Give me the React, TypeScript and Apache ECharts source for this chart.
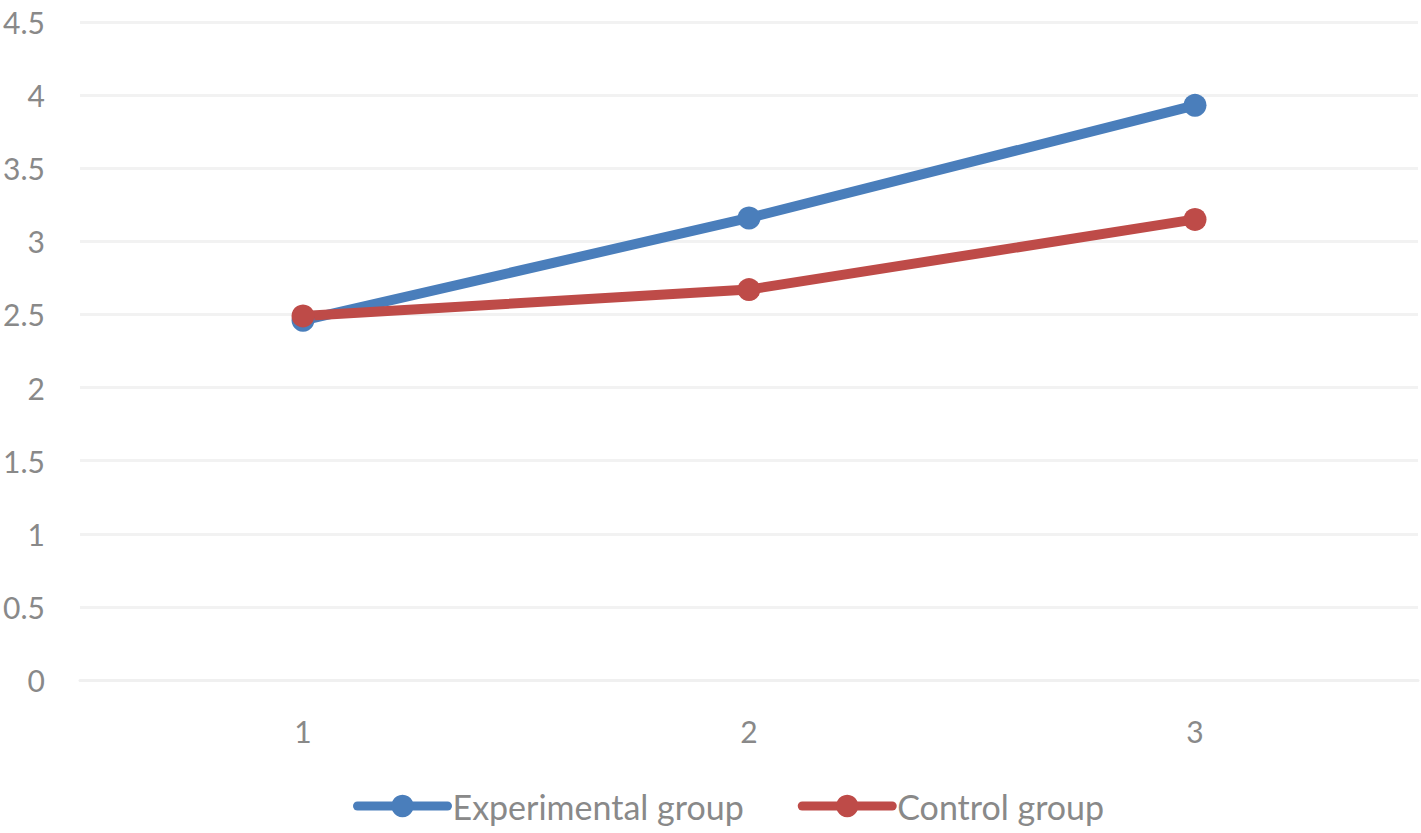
import React, { useEffect, useRef } from "react";
import * as echarts from "echarts";

const categories = ["1", "2", "3"];
const experimental = [2.46, 3.16, 3.93];
const control = [2.49, 2.67, 3.15];
const seriesNames = ["Experimental group", "Control group"];

export default function App() {
  const ref = useRef<HTMLDivElement>(null);
  useEffect(() => {
    const chart = echarts.init(ref.current!, null, { renderer: "svg" });
    const font = "Lato, 'Noto Sans', sans-serif";
    chart.setOption({
      animation: false,
      backgroundColor: "#ffffff",
      grid: { left: 80, right: 3, top: 22, bottom: 153 },
      legend: {
        bottom: 5,
        left: 348,
        itemWidth: 90,
        itemHeight: 28,
        itemGap: 54,
        lineStyle: { width: 9, cap: "round" },
        textStyle: { fontFamily: font, fontSize: 34, color: "#898989" },
        data: seriesNames,
      },
      xAxis: {
        type: "category",
        data: categories,
        boundaryGap: true,
        axisLine: { show: true, lineStyle: { color: "#f0f0f0", width: 3 } },
        axisTick: { show: false },
        axisLabel: { fontFamily: font, fontSize: 30, color: "#898989", margin: 36 },
      },
      yAxis: {
        type: "value",
        min: 0,
        max: 4.5,
        interval: 0.5,
        axisLine: { show: false },
        axisTick: { show: false },
        splitLine: { lineStyle: { color: "#f2f2f2", width: 3 } },
        axisLabel: { fontFamily: font, fontSize: 30, color: "#898989", margin: 35 },
      },
      series: [
        {
          name: seriesNames[0],
          type: "line",
          data: experimental,
          symbol: "circle",
          symbolSize: 23,
          itemStyle: { color: "#4a7ebb" },
          lineStyle: { color: "#4a7ebb", width: 10 },
        },
        {
          name: seriesNames[1],
          type: "line",
          data: control,
          symbol: "circle",
          symbolSize: 23,
          itemStyle: { color: "#be4b48" },
          lineStyle: { color: "#be4b48", width: 10 },
        },
      ],
    });
    return () => chart.dispose();
  }, []);
  return (
    <div
      ref={ref}
      style={{ position: "fixed", left: 0, top: 0, width: 1421, height: 833 }}
    />
  );
}
